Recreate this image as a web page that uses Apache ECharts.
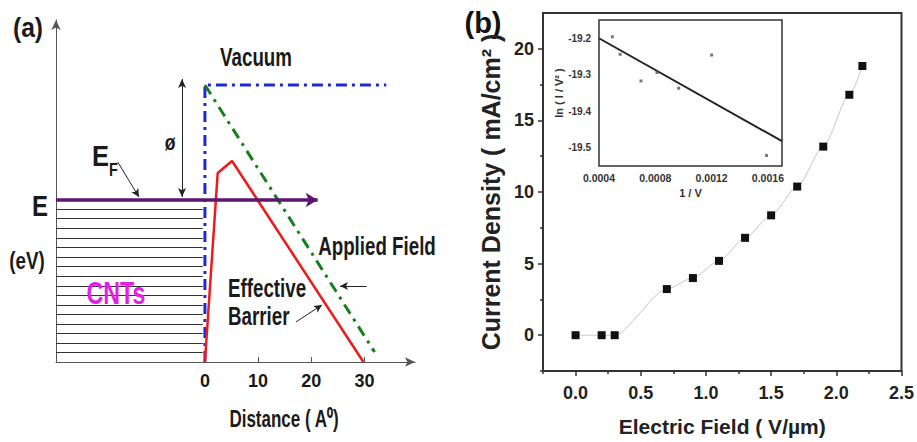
<!DOCTYPE html>
<html>
<head>
<meta charset="utf-8">
<script src="https://cdn.jsdelivr.net/npm/echarts@6/dist/echarts.min.js"></script>
<style>
html, body { margin: 0; padding: 0; background: #fff; }
#chart { width: 917px; height: 442px; }
</style>
</head>
<body>
<div id="chart"></div>
<script>
// ---- panel (a): energy diagram ----
const distanceTicks = [0, 10, 20, 30];
const bandLevels = [15.3, 14.35, 13.4, 12.4, 11.45, 10.5, 9.55, 8.6, 7.6, 6.7, 5.7, 4.75, 3.8, 2.85, 1.9, 0.95];
const fermiLevel = 16.2;
const vacuumLevel = 27.7;
const vacuumX = [0, 0, 34.1];
const vacuumE = [0, vacuumLevel, vacuumLevel];
const appliedX = [0, 31.9];
const appliedE = [vacuumLevel, 1.0];
const barrierX = [0, 2.4, 5.1, 29.8];
const barrierE = [0, 18.9, 20.1, 0];

// ---- panel (b): J-E curve ----
const fieldX = [0, 0.2, 0.3, 0.7, 0.9, 1.1, 1.3, 1.5, 1.7, 1.9, 2.1, 2.2];
const currentJ = [0, 0, 0, 3.22, 3.99, 5.19, 6.8, 8.37, 10.38, 13.17, 16.79, 18.8];
const fieldTicks = [0, 0.5, 1, 1.5, 2, 2.5];
const fieldMinor = [-0.25, 0.25, 0.75, 1.25, 1.75, 2.25];
const currentTicks = [0, 5, 10, 15, 20];
const currentMinor = [-2.5, 2.5, 7.5, 12.5, 17.5];

// ---- inset: F-N plot ----
const invV = [0.000495, 0.00055, 0.000698, 0.000812, 0.000966, 0.0012, 0.00159];
const lnIV2 = [-19.196, -19.244, -19.317, -19.294, -19.337, -19.246, -19.521];
const fitX = [0.0004, 0.0017];
const fitY = [-19.2, -19.482];
const invVTicks = [0.0004, 0.0008, 0.0012, 0.0016];
const lnTicks = [-19.5, -19.4, -19.3, -19.2];

const FONT = '"Liberation Sans", Arial, sans-serif';
const zip = (xs, ys) => xs.map((x, i) => [x, ys[i]]);
const seg = (x1, y1, x2, y2) => [{ coord: [x1, y1] }, { coord: [x2, y2] }];
// condensed bold label for panel (a)
const note = (text, x, y, size, opts = {}) => ({
    type: 'text', x: x, y: y, scaleX: opts.sx || 0.75, z: 10,
    style: {
        text: text, align: opts.align || 'center', verticalAlign: 'middle',
        font: (opts.weight || 'bold') + ' ' + size + 'px ' + FONT, fill: opts.fill || '#1a1a1a'
    }
});

let chart = echarts.init(document.getElementById('chart'), null, { renderer: 'svg' });

chart.setOption({
    animation: false,
    textStyle: { fontFamily: FONT },
    grid: [
        { left: 56, top: 20, width: 359, height: 342 },
        { left: 543, top: 13, width: 362, height: 363, show: true, borderColor: '#333', borderWidth: 2 },
        { left: 599, top: 20, width: 183, height: 146, show: true, backgroundColor: '#fff', borderColor: '#333', borderWidth: 1.5, z: 5 }
    ],
    xAxis: [
        {
            gridIndex: 0, type: 'value', min: -28, max: 39.5,
            axisLine: { onZero: false, symbol: ['none', 'arrow'], symbolSize: [7, 10], lineStyle: { color: '#555', width: 1 } },
            axisTick: { customValues: distanceTicks, inside: true, length: 5, lineStyle: { color: '#555' } },
            axisLabel: { customValues: distanceTicks, fontSize: 18, fontWeight: 'bold', color: '#1a1a1a', margin: 10 },
            splitLine: { show: false }
        },
        {
            gridIndex: 1, type: 'value', min: -0.25, max: 2.5, position: 'bottom',
            axisLine: { onZero: false, lineStyle: { color: '#333', width: 2 } },
            axisTick: { customValues: fieldTicks, length: 5, lineStyle: { color: '#333', width: 1.5 } },
            axisLabel: { customValues: fieldTicks, formatter: v => v.toFixed(1), fontSize: 18, fontWeight: 'bold', color: '#222', margin: 13 },
            splitLine: { show: false },
            name: 'Electric Field ( V/µm)', nameLocation: 'middle', nameGap: 45,
            nameTextStyle: { fontSize: 21, fontWeight: 'bold', color: '#222' }
        },
        {
            gridIndex: 1, type: 'value', min: -0.25, max: 2.5, position: 'bottom',
            axisLine: { show: false, onZero: false },
            axisTick: { customValues: fieldMinor, length: 3, lineStyle: { color: '#333', width: 1.5 } },
            axisLabel: { show: false },
            splitLine: { show: false }
        },
        {
            gridIndex: 2, type: 'value', min: 0.0004, max: 0.0017,
            axisLine: { show: false, onZero: false },
            axisTick: { customValues: invVTicks, inside: true, length: 3, lineStyle: { color: '#333' } },
            axisLabel: { customValues: invVTicks, formatter: v => v.toFixed(4), fontSize: 10.5, fontWeight: 'bold', color: '#333', margin: 6 },
            splitLine: { show: false },
            name: '1 / V', nameLocation: 'middle', nameGap: 21,
            nameTextStyle: { fontSize: 11, fontWeight: 'bold', color: '#333' }
        }
    ],
    yAxis: [
        {
            gridIndex: 0, type: 'value', min: 0, max: 34.2, position: 'left',
            axisLine: { show: true, onZero: false, symbol: ['none', 'arrow'], symbolSize: [7, 10], lineStyle: { color: '#555', width: 1 } },
            axisTick: { show: false },
            axisLabel: { show: false },
            splitLine: { show: false }
        },
        {
            gridIndex: 1, type: 'value', min: -2.5, max: 22.5, position: 'left',
            axisLine: { show: true, onZero: false, lineStyle: { color: '#333', width: 2 } },
            axisTick: { customValues: currentTicks, length: 5, lineStyle: { color: '#333', width: 1.5 } },
            axisLabel: { customValues: currentTicks, fontSize: 18, fontWeight: 'bold', color: '#222', margin: 9 },
            splitLine: { show: false },
            name: 'Current Density ( mA/cm² )', nameLocation: 'middle', nameGap: 40, nameRotate: 90,
            nameTextStyle: { fontSize: 25, fontWeight: 'bold', color: '#222' }
        },
        {
            gridIndex: 1, type: 'value', min: -2.5, max: 22.5, position: 'left',
            axisLine: { show: false, onZero: false },
            axisTick: { customValues: currentMinor, length: 3, lineStyle: { color: '#333', width: 1.5 } },
            axisLabel: { show: false },
            splitLine: { show: false }
        },
        {
            gridIndex: 2, type: 'value', min: -19.55, max: -19.15, position: 'left',
            axisLine: { show: false, onZero: false },
            axisTick: { customValues: lnTicks, inside: true, length: 3, lineStyle: { color: '#333' } },
            axisLabel: { customValues: lnTicks, formatter: v => v.toFixed(1), fontSize: 10, fontWeight: 'bold', color: '#333', margin: 8 },
            splitLine: { show: false },
            name: 'ln ( I / V² )', nameLocation: 'middle', nameGap: 22, nameRotate: 90,
            nameTextStyle: { fontSize: 11, fontWeight: 'bold', color: '#333' }
        }
    ],
    series: [
        {
            name: 'bands', type: 'line', xAxisIndex: 0, yAxisIndex: 0, data: [], symbol: 'none',
            markLine: {
                silent: true, symbol: ['none', 'none'], label: { show: false },
                lineStyle: { color: '#333', width: 1, type: 'solid' },
                data: bandLevels.map(v => seg(-28, v, -0.4, v))
            }
        },
        {
            name: 'fermi', type: 'line', xAxisIndex: 0, yAxisIndex: 0, data: [], symbol: 'none',
            markLine: {
                silent: true, symbol: ['none', 'arrow'], symbolSize: [11, 12], label: { show: false },
                lineStyle: { color: '#5b1670', width: 3.5, type: 'solid' },
                data: [seg(-28, fermiLevel, 21.2, fermiLevel)]
            }
        },
        {
            name: 'vacuum', type: 'line', xAxisIndex: 0, yAxisIndex: 0, data: zip(vacuumX, vacuumE), symbol: 'none',
            lineStyle: { color: '#1a2ad4', width: 3, type: [11, 5, 3, 5] }
        },
        {
            name: 'applied', type: 'line', xAxisIndex: 0, yAxisIndex: 0, data: zip(appliedX, appliedE), symbol: 'none',
            lineStyle: { color: '#15801a', width: 3, type: [11, 6, 3, 6] }
        },
        {
            name: 'barrier', type: 'line', xAxisIndex: 0, yAxisIndex: 0, data: zip(barrierX, barrierE), symbol: 'none',
            lineStyle: { color: '#f01a1a', width: 2.5 }
        },
        {
            name: 'pointers', type: 'line', xAxisIndex: 0, yAxisIndex: 0, data: [], symbol: 'none',
            markLine: {
                silent: true, symbol: ['none', 'arrow'], symbolSize: [6, 8], label: { show: false },
                lineStyle: { color: '#222', width: 1, type: 'solid' },
                data: [
                    seg(-16.4, 20.0, -12.4, 16.5),
                    seg(30.4, 7.6, 25.4, 7.6),
                    seg(17.1, 4.0, 22.0, 5.7)
                ]
            }
        },
        {
            name: 'phi', type: 'line', xAxisIndex: 0, yAxisIndex: 0, data: [], symbol: 'none',
            markLine: {
                silent: true, symbol: ['arrow', 'arrow'], symbolSize: [6, 9], label: { show: false },
                lineStyle: { color: '#222', width: 1, type: 'solid' },
                data: [seg(-4.3, 28.3, -4.3, 16.5)]
            }
        },
        {
            name: 'J', type: 'line', xAxisIndex: 1, yAxisIndex: 1, data: zip(fieldX, currentJ),
            symbol: 'rect', symbolSize: 8, smooth: 0.25, smoothMonotone: 'x',
            itemStyle: { color: '#111' },
            lineStyle: { color: '#c4c4c4', width: 1 }
        },
        {
            name: 'fit', type: 'line', xAxisIndex: 3, yAxisIndex: 3, data: zip(fitX, fitY), symbol: 'none', z: 6,
            lineStyle: { color: '#222', width: 2 }
        },
        {
            name: 'FN', type: 'scatter', xAxisIndex: 3, yAxisIndex: 3, data: zip(invV, lnIV2), z: 6,
            symbol: 'rect', symbolSize: 3, itemStyle: { color: '#555' }
        }
    ],
    graphic: [
        note('(a)', 28, 27, 28, { sx: 0.88 }),
        note('Vacuum', 256, 58, 25),
        note('ø', 170, 142, 22, { sx: 0.8 }),
        note('E', 100.5, 156, 30, { sx: 0.85 }),
        note('F', 113.5, 169, 18, { sx: 0.8 }),
        note('E', 40, 206, 30, { sx: 0.8 }),
        note('(eV)', 27, 261, 24, { sx: 0.78 }),
        note('CNTs', 116, 293, 31, { fill: '#e41ee4' }),
        note('Applied Field', 377, 247, 25),
        note('Effective', 228, 289, 25, { align: 'left' }),
        note('Barrier', 228, 317, 25, { align: 'left' }),
        note('Distance ( A⁰)', 284, 419, 23, { sx: 0.74 }),
        { type: 'text', x: 483, y: 23, style: { text: '(b)', align: 'center', verticalAlign: 'middle', font: 'bold 29px ' + FONT, fill: '#111' } }
    ]
});
</script>
</body>
</html>
